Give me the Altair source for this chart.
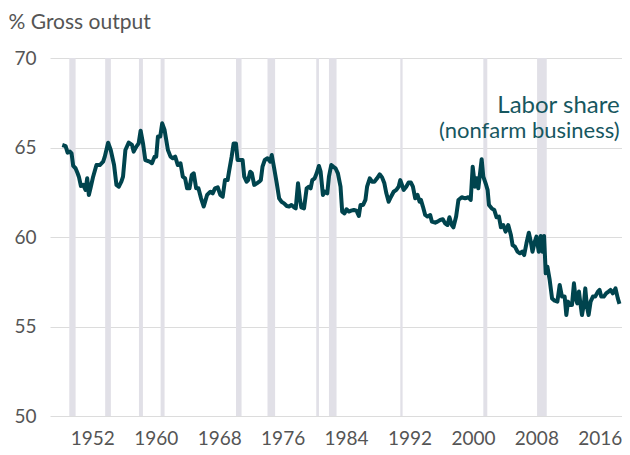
import altair as alt
import pandas as pd

# Labor share (nonfarm business), % of gross output
years = [1948.21,1948.63,1948.88,1949.17,1949.38,1949.59,1949.88,1950.14,1950.30,1950.56,1950.85,1951.14,1951.35,1951.56,1951.81,
1952.10,1952.52,1952.94,1953.36,1953.57,1953.99,1954.32,1954.74,1955.04,1955.33,1955.66,1955.87,1956.17,1956.59,1957.00,1957.21,
1957.55,1957.84,1958.09,1958.39,1958.68,1959.22,1959.52,1959.85,1960.06,1960.27,1960.56,1960.81,1961.11,1961.53,1961.86,1962.15,
1962.45,1962.78,1963.12,1963.41,1963.70,1963.95,1964.25,1964.54,1964.79,1965.09,1965.38,1965.71,1966.05,
1966.47,1966.89,1967.18,1967.47,1967.81,1968.14,1968.44,1968.73,1969.06,1969.27,1969.57,1969.82,1970.11,1970.32,1970.61,1970.95,
1971.16,1971.45,1971.66,1971.91,1972.12,1972.41,1972.75,1973.04,1973.25,1973.46,1973.75,1974.09,1974.42,1974.63,1974.93,1975.26,
1975.56,1975.85,1976.18,1976.52,1976.81,1977.11,1977.44,1977.65,1977.94,1978.19,1978.36,1978.70,1979.03,1979.32,1979.53,1979.74,
1980.04,1980.29,1980.58,1980.79,1981.08,1981.33,1981.63,1981.84,1982.13,1982.38,1982.67,1982.97,1983.30,
1983.51,1983.80,1984.06,1984.35,1984.64,1984.98,1985.31,1985.61,1985.82,1986.15,1986.44,1986.65,1986.99,1987.28,1987.57,1987.91,
1988.24,1988.54,1988.83,1989.08,1989.37,1989.67,1990.00,1990.34,1990.63,1990.84,1991.05,1991.26,1991.59,1991.89,1992.18,1992.43,
1992.72,1993.02,1993.27,1993.44,1993.69,1993.98,1994.27,1994.61,1994.82,1995.24,1995.53,1995.87,1996.20,1996.49,1996.79,1997.04,
1997.33,1997.54,1997.88,1998.17,1998.59,1999.01,1999.42,1999.72,1999.97,2000.26,2000.47,2000.68,
2001.10,2001.31,2001.60,2001.85,2002.02,2002.36,2002.69,2002.98,2003.28,2003.53,2003.82,2004.12,2004.45,2004.79,2005.00,2005.29,
2005.62,2005.92,2006.21,2006.46,2006.75,2007.05,2007.30,2007.51,2007.80,2008.01,2008.30,2008.55,2008.76,2008.97,2009.18,2009.39,
2009.68,2009.98,2010.31,2010.65,2010.94,2011.23,2011.57,2011.78,2011.99,2012.20,2012.49,2012.74,2012.95,2013.16,2013.37,2013.58,
2013.75,2014.00,2014.17,2014.38,2014.59,2014.84,2015.13,2015.42,2015.76,2015.97,2016.18,2016.51,2016.80,2017.10,2017.35,2017.64,
2017.98,2018.27,2018.48]

share = [65.14,65.08,64.71,64.77,64.67,63.97,63.84,63.56,63.37,62.85,62.91,62.63,63.28,62.35,62.81,
63.37,64.02,64.02,64.21,64.49,65.27,64.86,64.02,62.91,62.81,63.09,63.37,64.86,65.27,65.14,64.77,
65.05,65.23,65.94,65.23,64.30,64.21,64.12,64.49,64.49,65.61,65.61,66.35,65.98,64.86,64.49,64.40,
64.49,64.02,64.12,63.37,63.28,62.72,62.72,63.46,63.56,62.72,62.72,62.16,61.70,
62.35,62.53,62.44,62.72,62.78,62.35,62.25,63.18,63.18,63.74,64.49,65.23,65.23,64.30,64.30,64.30,
63.37,63.09,63.18,63.65,63.56,62.91,63.00,63.09,63.18,63.93,64.30,64.40,64.21,64.58,63.84,63.00,
62.16,61.97,61.88,61.73,61.70,61.79,61.66,61.60,63.00,62.07,61.66,61.60,62.72,62.81,62.72,63.18,
63.28,63.56,63.97,63.65,62.35,62.53,62.44,63.37,64.02,63.93,63.84,63.56,62.81,
61.42,61.32,61.55,61.42,61.47,61.51,61.47,61.18,61.79,61.79,62.07,62.81,63.28,63.09,63.09,63.28,
63.50,63.33,63.00,62.44,61.97,62.25,62.53,62.63,62.81,63.18,62.91,62.63,62.81,63.04,63.04,62.81,
62.16,62.35,61.97,62.07,61.70,61.23,61.14,61.23,60.86,60.80,60.86,60.95,60.99,60.76,60.67,61.10,
60.67,60.54,61.14,62.07,62.22,62.16,62.22,62.07,63.93,62.81,63.28,62.72,
64.34,63.37,63.00,62.63,61.79,61.60,61.51,61.10,61.14,60.54,60.67,60.30,60.67,60.11,59.55,59.46,
59.18,59.09,59.18,58.99,59.65,60.24,59.74,59.18,59.74,60.02,59.18,60.06,59.18,60.06,57.97,58.34,
57.60,56.57,56.44,56.39,57.32,56.67,56.67,55.64,56.39,56.20,56.20,57.41,56.57,56.29,56.95,56.20,
55.64,56.29,57.13,56.11,55.64,56.39,56.67,56.67,56.95,57.04,56.67,56.67,56.85,56.95,57.04,56.85,
57.13,56.57,56.26]

# Recession periods (shaded)
rec_start = [1949.09, 1953.62, 1957.88, 1960.61, 1970.12, 1974.09, 1980.24, 1981.84, 1990.84, 2001.31, 2008.09]
rec_end = [1949.89, 1954.34, 1958.38, 1961.11, 1970.82, 1975.05, 1980.58, 1982.80, 1991.13, 2001.81, 2009.31]

tick_years = [1952, 1960, 1968, 1976, 1984, 1992, 2000, 2008, 2016]
y_ticks = [50, 55, 60, 65, 70]

label_lines = ["Labor share", "(nonfarm business)"]
label_x = [2018.5, 2018.5]
label_y = [66.90, 65.52]
label_size = [24, 22]

line_df = pd.DataFrame({"year": years, "share": share})
rec_df = pd.DataFrame({"year": rec_start, "end": rec_end, "share": [50] * len(rec_start), "top": [70] * len(rec_start)})
lab_df = pd.DataFrame({"year": label_x, "share": label_y, "text": label_lines, "size": label_size})

FONT = "Lato"
xscale = alt.Scale(domain=[1946.66, 2018.8], nice=False, zero=False)
yscale = alt.Scale(domain=[50, 70], nice=False, zero=False)

xaxis = alt.Axis(values=tick_years, format="d", title=None, grid=False, domain=False,
                 ticks=False, tickSize=0, labelPadding=13, labelFont=FONT, labelFontSize=19,
                 labelColor="#555555")
yaxis = alt.Axis(values=y_ticks, grid=True, gridColor="#dcdcdc", gridWidth=1, domain=False,
                 ticks=False, tickSize=0, labelPadding=14, labelFont=FONT, labelFontSize=19,
                 labelColor="#555555", title="% Gross output", titleAngle=0, titleAlign="left",
                 titleBaseline="alphabetic", titleX=-42, titleY=-30, titleFont=FONT,
                 titleFontSize=21, titleFontWeight="normal", titleColor="#555555")

X = alt.X("year:Q", scale=xscale, axis=xaxis)
Y = alt.Y("share:Q", scale=yscale, axis=yaxis)

bands = alt.Chart(rec_df).mark_rect(color="#e1e0e7").encode(
    x=X, x2="end:Q", y=Y, y2="top:Q",
)

line = alt.Chart(line_df).mark_line(color="#00444e", strokeWidth=4, strokeJoin="round").encode(
    x=X, y=Y,
)

labels = alt.Chart(lab_df).mark_text(align="right", baseline="alphabetic", font=FONT,
                                     color="#17575f").encode(
    x=X, y=Y, text="text:N",
    size=alt.Size("size:Q", scale=None, legend=None),
)

chart = alt.layer(bands, line, labels).properties(
    width=572, height=358,
    autosize=alt.AutoSizeParams(type="none"),
    padding={"left": 42, "top": 50, "right": 0, "bottom": 31},
).configure_view(stroke=None)

chart.save("out.html", embed_options={"renderer": "svg", "actions": False})
